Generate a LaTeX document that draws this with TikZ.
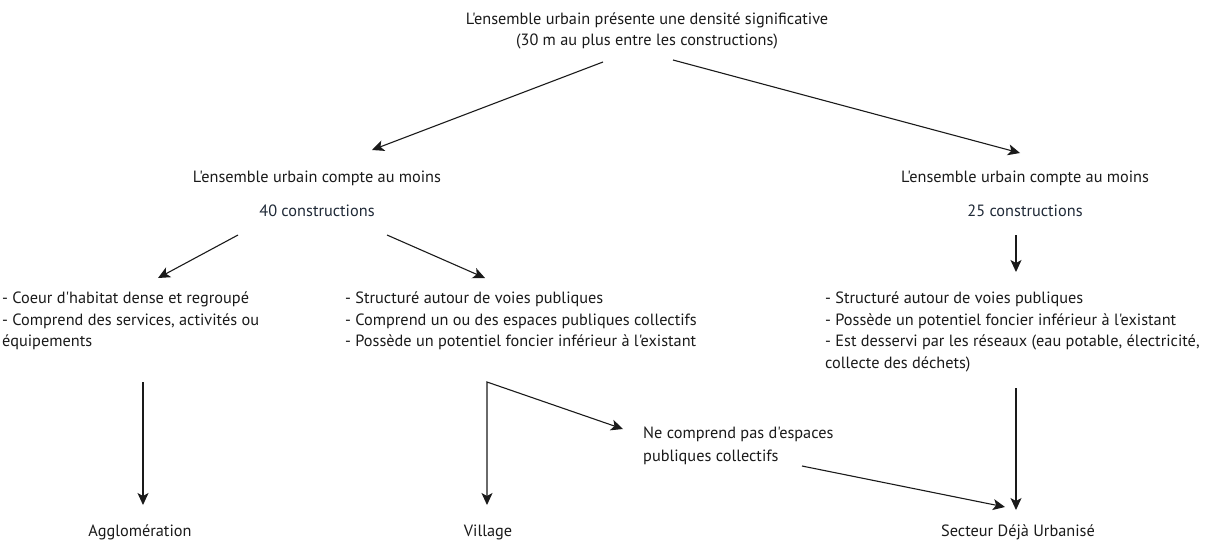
\documentclass[tikz,border=0pt]{standalone}
\usepackage{fontspec}
\setmainfont{PT Sans}[Ligatures=TeXOff]
\usetikzlibrary{arrows.meta,calc}
\definecolor{ink}{HTML}{1A1A1A}
\definecolor{navy}{HTML}{1F2937}
\begin{document}
\begin{tikzpicture}[x=1pt,y=-1pt,
  font=\fontsize{16.3}{21.5}\selectfont,
  txt/.style={inner sep=0pt, text=ink},
  lst/.style={txt, align=left, anchor=north west},
  arr/.style={draw=ink, line width=1.1pt, -{Stealth[length=12pt,width=11pt,inset=3pt]}},
  darr/.style={draw=ink, line width=1.1pt, {Stealth[length=12pt,width=11pt,inset=3pt]}-{Stealth[length=12pt,width=11pt,inset=3pt]}}]
\useasboundingbox (0,0) rectangle (1230,546);

\node[txt, align=center] (top) at (647,31) {L'ensemble urbain présente une densité significative\\(30 m au plus entre les constructions)};

\node[txt, align=center] (ml) at (317,194) {L'ensemble urbain compte au moins\\[12pt]\textcolor{navy}{40 constructions}};
\node[txt, align=center] (mr) at (1025,194) {L'ensemble urbain compte au moins\\[12pt]\textcolor{navy}{25 constructions}};

\node[lst] (l1) at (2,292) {- Coeur d'habitat dense et regroupé\\- Comprend des services, activités ou\\équipements};
\node[lst] (l2) at (345,292) {- Structuré autour de voies publiques\\- Comprend un ou des espaces publiques collectifs\\- Possède un potentiel foncier inférieur à l'existant};
\node[lst] (l3) at (825,292) {- Structuré autour de voies publiques\\- Possède un potentiel foncier inférieur à l'existant\\- Est desservi par les réseaux (eau potable, électricité,\\collecte des déchets)};

\node[lst] (ne) at (643,427) {Ne comprend pas d'espaces\\[1pt]publiques collectifs};

\node[txt] (agg) at (140,532) {Agglomération};
\node[txt] (vil) at (488,532) {Village};
\node[txt] (sdu) at (1018,532) {Secteur Déjà Urbanisé};

\draw[arr] ($(top)+(-44,31)$) -- ($(ml)+(55,-44)$);
\draw[arr] ($(top)+(26,29)$) -- ($(mr)+(-5,-41)$);
\draw[arr] ($(ml)+(-79,41)$) -- ($(l1.north west)+(156,-14)$);
\draw[arr] ($(ml)+(70,41)$) -- ($(l2.north west)+(140,-14)$);
\draw[arr] ($(mr)+(-9,41)$) -- ($(l3.north west)+(191,-20)$);
\draw[arr] ($(l1.north west)+(141,90)$) -- ($(agg)+(3,-27)$);
\draw[darr] ($(vil)+(-1,-27)$) -- ($(l2.north west)+(142,90)$) -- ($(ne.north west)+(-20,2)$);
\draw[arr] ($(ne.north west)+(159,39)$) -- ($(sdu)+(-13,-25)$);
\draw[arr] ($(l3.north west)+(191,96)$) -- ($(sdu)+(-2,-22)$);
\end{tikzpicture}
\end{document}
